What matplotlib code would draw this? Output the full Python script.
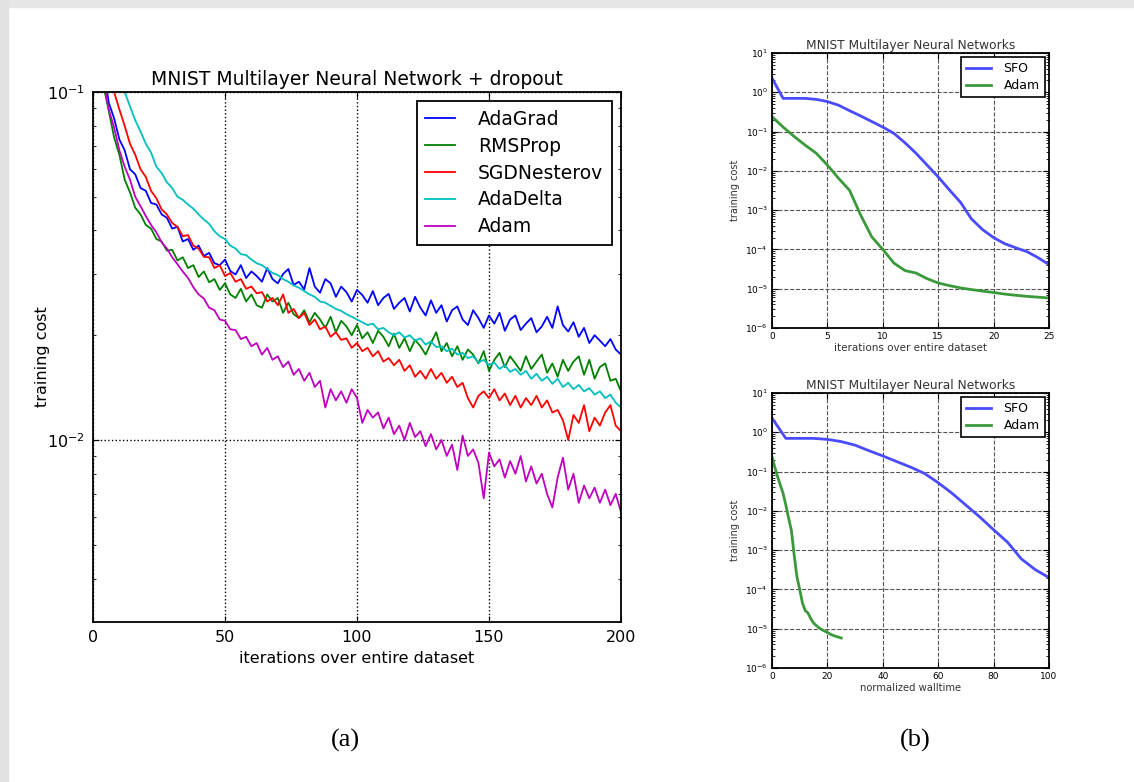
import numpy as np
import matplotlib
matplotlib.use("Agg")
import matplotlib.pyplot as plt
from matplotlib.patches import Rectangle
from matplotlib.ticker import LogLocator, NullFormatter

# ---- (a) MNIST multilayer net + dropout, training cost every 2 iterations
iterations = np.arange(0, 201, 2)

adagrad = [
    0.300, 0.170, 0.116, 0.093, 0.084, 0.073, 0.068, 0.060, 0.058, 0.053,
    0.052, 0.048, 0.0475, 0.0445, 0.0435, 0.0405, 0.0410, 0.0372, 0.0378, 0.0352,
    0.0362, 0.0338, 0.0345, 0.0322, 0.0318, 0.0330, 0.0306, 0.0299, 0.0318, 0.0292,
    0.0305, 0.0296, 0.0285, 0.0312, 0.0290, 0.0282, 0.0300, 0.0310, 0.0279, 0.0285,
    0.0271, 0.0312, 0.0276, 0.0265, 0.0290, 0.0282, 0.0258, 0.0276, 0.0266, 0.0250,
    0.0270, 0.0261, 0.0248, 0.0268, 0.0244, 0.0256, 0.0263, 0.0238, 0.0248, 0.0256,
    0.0234, 0.0258, 0.0240, 0.0228, 0.0252, 0.0232, 0.0244, 0.0219, 0.0236, 0.0242,
    0.0222, 0.0214, 0.0236, 0.0224, 0.0210, 0.0228, 0.0216, 0.0232, 0.0206, 0.0222,
    0.0228, 0.0207, 0.0216, 0.0224, 0.0204, 0.0212, 0.0226, 0.0210, 0.0242, 0.0214,
    0.0205, 0.0218, 0.0198, 0.0210, 0.0190, 0.0200, 0.0193, 0.0186, 0.0195, 0.0182,
    0.0176]

rmsprop = [
    0.280, 0.150, 0.104, 0.088, 0.074, 0.066, 0.056, 0.0515, 0.0465, 0.0445,
    0.0415, 0.0405, 0.0378, 0.0372, 0.0350, 0.0352, 0.0328, 0.0335, 0.0312, 0.0318,
    0.0294, 0.0305, 0.0284, 0.0290, 0.0270, 0.0282, 0.0262, 0.0256, 0.0272, 0.0250,
    0.0262, 0.0244, 0.0240, 0.0262, 0.0250, 0.0256, 0.0232, 0.0248, 0.0230, 0.0224,
    0.0236, 0.0218, 0.0232, 0.0222, 0.0210, 0.0226, 0.0204, 0.0220, 0.0212, 0.0200,
    0.0214, 0.0196, 0.0204, 0.0190, 0.0206, 0.0198, 0.0186, 0.0202, 0.0184, 0.0196,
    0.0180, 0.0194, 0.0186, 0.0176, 0.0190, 0.0204, 0.0180, 0.0190, 0.0174, 0.0186,
    0.0170, 0.0182, 0.0176, 0.0166, 0.0180, 0.0158, 0.0170, 0.0178, 0.0162, 0.0174,
    0.0166, 0.0158, 0.0174, 0.0160, 0.0168, 0.0176, 0.0156, 0.0166, 0.0152, 0.0170,
    0.0158, 0.0168, 0.0174, 0.0154, 0.0170, 0.0150, 0.0162, 0.0166, 0.0148, 0.0150,
    0.0138]

sgd_nesterov = [
    0.400, 0.220, 0.150, 0.118, 0.100, 0.089, 0.080, 0.071, 0.066, 0.060,
    0.057, 0.052, 0.0495, 0.0460, 0.0445, 0.0420, 0.0410, 0.0385, 0.0388, 0.0362,
    0.0355, 0.0336, 0.0335, 0.0312, 0.0318, 0.0296, 0.0302, 0.0285, 0.0290, 0.0272,
    0.0276, 0.0264, 0.0266, 0.0250, 0.0256, 0.0244, 0.0262, 0.0232, 0.0238, 0.0224,
    0.0232, 0.0214, 0.0222, 0.0208, 0.0212, 0.0198, 0.0204, 0.0194, 0.0196, 0.0184,
    0.0190, 0.0180, 0.0184, 0.0174, 0.0180, 0.0168, 0.0172, 0.0164, 0.0170, 0.0158,
    0.0164, 0.0152, 0.0158, 0.0150, 0.0160, 0.0150, 0.0156, 0.0146, 0.0152, 0.0142,
    0.0146, 0.0132, 0.0124, 0.0134, 0.0138, 0.0132, 0.0140, 0.0130, 0.0136, 0.0126,
    0.0134, 0.0124, 0.0132, 0.0126, 0.0134, 0.0124, 0.0130, 0.0120, 0.0122, 0.0114,
    0.0100, 0.0118, 0.0112, 0.0126, 0.0106, 0.0116, 0.0110, 0.0120, 0.0126, 0.0110,
    0.0106]

adadelta = [
    0.500, 0.300, 0.200, 0.160, 0.130, 0.112, 0.100, 0.091, 0.083, 0.077,
    0.071, 0.067, 0.061, 0.0585, 0.0550, 0.0530, 0.0500, 0.0490, 0.0475, 0.0462,
    0.0445, 0.0430, 0.0418, 0.0398, 0.0385, 0.0378, 0.0362, 0.0355, 0.0342, 0.0340,
    0.0330, 0.0322, 0.0318, 0.0310, 0.0302, 0.0298, 0.0290, 0.0285, 0.0278, 0.0274,
    0.0268, 0.0262, 0.0258, 0.0250, 0.0248, 0.0243, 0.0238, 0.0235, 0.0230, 0.0226,
    0.0222, 0.0218, 0.0214, 0.0216, 0.0208, 0.0210, 0.0204, 0.0200, 0.0204, 0.0197,
    0.0200, 0.0193, 0.0196, 0.0188, 0.0192, 0.0185, 0.0186, 0.0180, 0.0183, 0.0176,
    0.0178, 0.0172, 0.0174, 0.0167, 0.0170, 0.0164, 0.0167, 0.0160, 0.0164, 0.0157,
    0.0160, 0.0154, 0.0158, 0.0150, 0.0155, 0.0148, 0.0152, 0.0145, 0.0150, 0.0142,
    0.0146, 0.0140, 0.0144, 0.0138, 0.0141, 0.0135, 0.0138, 0.0132, 0.0135, 0.0128,
    0.0124]

adam = [
    0.300, 0.150, 0.106, 0.089, 0.079, 0.068, 0.061, 0.056, 0.050, 0.047,
    0.044, 0.0415, 0.0395, 0.0370, 0.0355, 0.0335, 0.0320, 0.0305, 0.0292, 0.0275,
    0.0262, 0.0255, 0.0240, 0.0236, 0.0222, 0.0220, 0.0208, 0.0207, 0.0195, 0.0198,
    0.0186, 0.0190, 0.0176, 0.0184, 0.0170, 0.0174, 0.0162, 0.0168, 0.0154, 0.0160,
    0.0148, 0.0156, 0.0142, 0.0148, 0.0124, 0.0140, 0.0130, 0.0138, 0.0128, 0.0140,
    0.0132, 0.0112, 0.0122, 0.0116, 0.0120, 0.0108, 0.0116, 0.0104, 0.0110, 0.0100,
    0.0112, 0.0102, 0.0106, 0.0096, 0.0104, 0.0094, 0.0100, 0.0090, 0.0097, 0.0082,
    0.0103, 0.0090, 0.0094, 0.0086, 0.0068, 0.0092, 0.0084, 0.0088, 0.0078, 0.0087,
    0.0080, 0.0090, 0.0076, 0.0084, 0.0075, 0.0080, 0.0070, 0.0064, 0.0078, 0.0089,
    0.0072, 0.0080, 0.0066, 0.0074, 0.0068, 0.0073, 0.0066, 0.0072, 0.0065, 0.0070,
    0.0062]

# ---- (b) SFO vs Adam, per iteration
sfo_iters = list(range(26))
sfo_cost = [2.3, 0.70, 0.70, 0.70, 0.66, 0.58, 0.47, 0.34, 0.25, 0.18,
            0.13, 0.090, 0.052, 0.028, 0.014, 0.0070, 0.0033, 0.0016, 0.00060, 0.00032,
            0.00020, 0.00014, 0.00011, 0.000088, 0.000062, 0.000041]
adam_iters = list(range(26))
adam_cost = [0.24, 0.13, 0.075, 0.045, 0.028, 0.014, 0.0065, 0.0032, 0.00075, 0.00021,
             0.00010, 0.000045, 0.000029, 0.000025, 0.000018, 0.000014, 0.000012,
             0.0000105, 0.0000095, 0.0000087, 0.0000080, 0.0000073, 0.0000068,
             0.0000064, 0.0000061, 0.0000058]
# normalized wall time of each iteration
sfo_walltime = [0, 5, 10, 15, 20, 25, 30, 35, 40, 45, 50, 55, 60, 65, 70,
                75, 80, 85, 90, 95, 100]
adam_walltime = [0, 1, 2, 3, 4, 5, 6, 7, 8, 9, 10, 11, 12, 13, 14, 15, 16,
                 17, 18, 19, 20, 21, 22, 23, 24, 25]

plt.rcParams.update({
    "font.family": "DejaVu Sans",
    "xtick.direction": "in",
    "ytick.direction": "in",
    "xtick.top": True,
    "ytick.right": True,
    "xtick.major.size": 4,
    "ytick.major.size": 4,
    "ytick.minor.size": 2,
    "xtick.minor.size": 2,
    "legend.fancybox": False,
    "legend.edgecolor": "black",
    "legend.framealpha": 1.0,
    "mathtext.default": "regular",
})

W, H = 1134, 782
fig = plt.figure(figsize=(W / 100, H / 100), dpi=100)

# grey page margins
fig.patches.append(Rectangle((0, 1 - 7 / H), 1, 7 / H, transform=fig.transFigure,
                             color="#e6e6e6", zorder=0))
fig.patches.append(Rectangle((0, 0), 8 / W, 1, transform=fig.transFigure,
                             color="#e2e2e2", zorder=0))


def px_axes(x0, y0, x1, y1):
    return fig.add_axes([x0 / W, 1 - y1 / H, (x1 - x0) / W, (y1 - y0) / H])


# ---- left panel
ax = px_axes(93, 92, 621, 622)
series = [("AdaGrad", adagrad, "b"), ("RMSProp", rmsprop, "g"),
          ("SGDNesterov", sgd_nesterov, "r"), ("AdaDelta", adadelta, "c"),
          ("Adam", adam, "m")]
colors = {"b": "#0000ff", "g": "#008000", "r": "#ff0000", "c": "#00bfbf", "m": "#bf00bf"}
for name, vals, c in series:
    ax.plot(iterations, vals, color=colors[c], lw=1.3, label=name)
ax.set_yscale("log")
ax.set_xlim(0, 200)
ax.set_ylim(0.003, 0.1)
ax.set_xticks([0, 50, 100, 150, 200])
ax.set_yticks([0.01, 0.1])
ax.yaxis.set_minor_formatter(NullFormatter())
ax.grid(True, which="major", ls=":", color="black", lw=1.0)
ax.tick_params(labelsize=11.5, pad=6)
ax.set_title("MNIST Multilayer Neural Network + dropout", fontsize=13.5, pad=5)
ax.set_xlabel("iterations over entire dataset", fontsize=11.5, labelpad=4)
ax.set_ylabel("training cost", fontsize=11.5, labelpad=-2)
for s in ax.spines.values():
    s.set_linewidth(1.3)
leg = ax.legend(loc="upper right", fontsize=13.5, handlelength=1.6,
                borderaxespad=0.5, labelspacing=0.42, handletextpad=1.2,
                borderpad=0.45)
leg.get_frame().set_linewidth(1.3)


# ---- right panels
def small_panel(ax, sx, sy, ax_x, ax_y, xlim, xticks, xlabel, xlabel_size):
    ax.plot(sx, sy, color="#4a4aff", lw=2.0, label="SFO")
    ax.plot(ax_x, ax_y, color="#3a9a3a", lw=2.0, label="Adam")
    ax.set_yscale("log")
    ax.set_xlim(*xlim)
    ax.set_ylim(1e-6, 1e1)
    ax.set_xticks(xticks)
    ax.yaxis.set_major_locator(LogLocator(base=10, numticks=20))
    ax.yaxis.set_minor_formatter(NullFormatter())
    ax.grid(True, which="major", ls="--", color="#555555", lw=0.8)
    ax.tick_params(labelsize=6.5, pad=3)
    ax.set_title("MNIST Multilayer Neural Networks", fontsize=8.8, pad=3, color="#333333")
    ax.set_xlabel(xlabel, fontsize=xlabel_size, labelpad=1, color="#333333")
    ax.set_ylabel("training cost", fontsize=7, labelpad=4, color="#333333")
    for s in ax.spines.values():
        s.set_linewidth(1.3)
    lg = ax.legend(loc="upper right", fontsize=9, handlelength=2.0,
                   borderaxespad=0.35, labelspacing=0.3, handletextpad=1.0)
    lg.get_frame().set_linewidth(1.2)


ax_top = px_axes(772, 53, 1049, 328)
small_panel(ax_top, sfo_iters, sfo_cost, adam_iters, adam_cost, (0, 25),
            [0, 5, 10, 15, 20, 25], "iterations over entire dataset", 7.5)

ax_bot = px_axes(772, 393, 1049, 668)
small_panel(ax_bot, sfo_walltime, sfo_cost[:len(sfo_walltime)], adam_walltime,
            adam_cost, (0, 100), [0, 20, 40, 60, 80, 100], "normalized walltime", 7.2)

# sub-figure captions
fig.text(345 / W, 1 - 740 / H, "(a)", family="Liberation Serif", fontsize=19,
         ha="center", va="center")
fig.text(915 / W, 1 - 740 / H, "(b)", family="Liberation Serif", fontsize=19,
         ha="center", va="center")

fig.savefig("out.png", dpi=100, facecolor="white")
